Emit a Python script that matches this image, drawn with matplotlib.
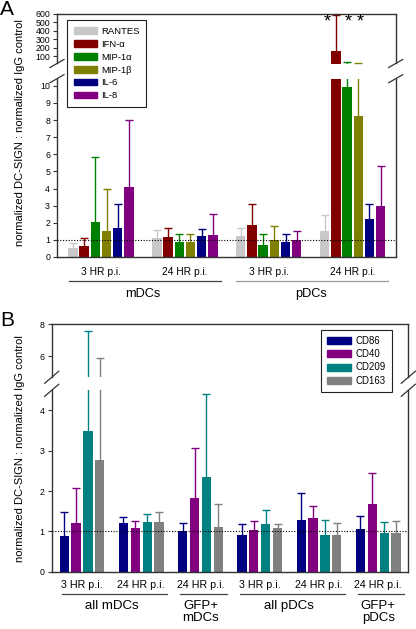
import matplotlib
matplotlib.use('Agg')
import matplotlib.pyplot as plt
from matplotlib.patches import Patch
from matplotlib.lines import Line2D
from matplotlib import transforms

plt.rcParams['font.family'] = ['Liberation Sans', 'DejaVu Sans']

W, H = 416, 629

# ---- panel A data ----
a_series = ['RANTES', 'IFN-α', 'MIP-1α', 'MIP-1β', 'IL-6', 'IL-8']
a_colors = ['#c8c8c8', '#800000', '#008000', '#808000', '#000080', '#800080']
a_ticklabels = ['3 HR p.i.', '24 HR p.i.', '3 HR p.i.', '24 HR p.i.']
a_groups = ['mDCs', 'pDCs']
# one row per time point, one column per cytokine
a_means = [
    [0.51, 0.62, 2.05, 1.52, 1.68, 4.08],
    [1.09, 1.17, 0.90, 0.88, 1.25, 1.31],
    [1.23, 1.86, 0.68, 0.98, 0.90, 1.02],
    [1.52, 166, 9.95, 8.24, 2.20, 2.99],
]
a_tops = [
    [0.84, 1.13, 5.82, 3.96, 3.09, 8.0],
    [1.58, 1.70, 1.37, 1.37, 1.64, 2.50],
    [1.68, 3.09, 1.33, 1.80, 1.37, 1.52],
    [2.47, 580, 32, 20, 3.09, 5.33],
]
a_stars = [(3, 1), (3, 2), (3, 3)]

# ---- panel B data ----
b_series = ['CD86', 'CD40', 'CD209', 'CD163']
b_colors = ['#000080', '#800080', '#008080', '#808080']
b_ticklabels = ['3 HR p.i.', '24 HR p.i.', '24 HR p.i.', '3 HR p.i.', '24 HR p.i.', '24 HR p.i.']
b_groups = ['all mDCs', 'GFP+\nmDCs', 'all pDCs', 'GFP+\npDCs']
b_group_members = [(0, 1), (2, 2), (3, 4), (5, 5)]
b_means = [
    [0.88, 1.21, 3.48, 2.77],
    [1.21, 1.08, 1.24, 1.23],
    [1.00, 1.82, 2.35, 1.12],
    [0.90, 1.04, 1.18, 1.08],
    [1.29, 1.32, 0.90, 0.90],
    [1.06, 1.68, 0.95, 0.95],
]
b_tops = [
    [1.47, 2.07, 7.6, 5.9],
    [1.35, 1.26, 1.43, 1.49],
    [1.21, 3.08, 4.41, 1.68],
    [1.18, 1.27, 1.52, 1.19],
    [1.96, 1.63, 1.28, 1.21],
    [1.37, 2.44, 1.23, 1.26],
]

ylabel = 'normalized DC-SIGN : normalized IgG control'
SPINE = '#333333'


def fx(px):
    return px / W


def fy(py):
    return 1 - py / H


def rect(x0, x1, ytop, ybot):
    return [fx(x0), fy(ybot), fx(x1) - fx(x0), fy(ytop) - fy(ybot)]


def style(ax, which):
    for s in ax.spines.values():
        s.set_color(SPINE)
        s.set_linewidth(1.0)
    if which == 'top':
        ax.spines['bottom'].set_visible(False)
        ax.tick_params(axis='x', bottom=False, labelbottom=False)
    else:
        ax.spines['top'].set_visible(False)
    ax.tick_params(axis='y', length=3, width=0.8, labelsize=6.3, pad=2, color=SPINE)


def bars(ax, centers, means, tops, colors, step, width, ymin):
    n = len(colors)
    for g, xc in enumerate(centers):
        for j in range(n):
            x = xc + (j - (n - 1) / 2) * step
            m = means[g][j]
            if tops[g][j] < ymin:
                continue  # nothing of this bar reaches this segment
            ax.bar(x, m, width, facecolor=colors[j], linewidth=0, zorder=2)
            # upper error only: hide the lower cap
            _, caps, _ = ax.errorbar(x, m, yerr=[[0], [tops[g][j] - m]], fmt='none',
                                     ecolor=colors[j], elinewidth=1.0, capsize=3.2,
                                     capthick=1.0, zorder=1)
            caps[0].set_visible(False)


def breaks(fig, ax_top, ax_bot, dx, dy):
    for ax, end in ((ax_top, 'y0'), (ax_bot, 'y1')):
        p = ax.get_position()
        y = getattr(p, end)
        for x in (p.x0, p.x1):
            fig.add_artist(Line2D([x - dx / W, x + dx / W], [y - dy / H, y + dy / H],
                                  color=SPINE, lw=0.9))


fig = plt.figure(figsize=(W / 100, H / 100), dpi=100)

# ================= panel A =================
a_centers = [0, 7.5, 15, 22.5]
axA_t = fig.add_axes(rect(57, 395.7, 13.7, 63.5))
axA_b = fig.add_axes(rect(57, 395.7, 78.7, 257))
axA_t.set_ylim(15, 600)
axA_b.set_ylim(0, 10.42)
for ax in (axA_t, axA_b):
    bars(ax, a_centers, a_means, a_tops, a_colors, 1.0, 0.84, ax.get_ylim()[0])
    ax.set_xlim(-3.93, 26.35)
axA_t.set_yticks(range(100, 601, 100))
axA_b.set_yticks(range(0, 11))
style(axA_t, 'top')
style(axA_b, 'bot')
axA_b.axhline(1, color='black', ls=(0, (1, 1.5)), lw=0.8, zorder=3)
axA_b.set_xticks(a_centers, a_ticklabels, fontsize=7.4)
axA_b.tick_params(axis='x', length=0, pad=7)
breaks(fig, axA_t, axA_b, 7, 4)

for g, j in a_stars:
    x = a_centers[g] + (j - 2.5) * 1.0 + (-0.75 if j == 1 else 0.15)
    axA_t.text(x, 500, '*', ha='center', va='center', fontsize=13, clip_on=False)

trA = transforms.blended_transform_factory(axA_b.transData, fig.transFigure)
for k, name in enumerate(a_groups):
    g0, g1 = a_centers[2 * k], a_centers[2 * k + 1]
    fig.add_artist(Line2D([g0 - 2.9, g1 + 3.2], [fy(281.3)] * 2, transform=trA,
                          color=['#444444', '#999999'][k], lw=0.9))
    fig.text((g0 + g1) / 2, fy(288), name, transform=trA, ha='center', va='top',
             fontsize=9.2)

legA = fig.legend([Patch(color=c) for c in a_colors], a_series, loc='upper left',
                  bbox_to_anchor=(fx(67.3), fy(20)), fontsize=6.8, frameon=True,
                  fancybox=False, edgecolor='#222222', framealpha=1,
                  handlelength=2.4, handleheight=0.7, handletextpad=0.5,
                  labelspacing=0.42, borderpad=0.7, borderaxespad=0)
legA.get_frame().set_linewidth(0.8)

fig.text(fx(20), fy(133), ylabel, rotation=90, ha='center', va='center', fontsize=8)
fig.text(fx(0), fy(0), 'A', fontsize=15, ha='left', va='top')

# ================= panel B =================
b_centers = [0, 5, 10, 15, 20, 25]
axB_t = fig.add_axes(rect(51.7, 408.3, 324.3, 377.3))
axB_b = fig.add_axes(rect(51.7, 408.3, 390.3, 571.7))
axB_t.set_ylim(4.7, 8)
axB_b.set_ylim(0, 4.5)
for ax in (axB_t, axB_b):
    bars(ax, b_centers, b_means, b_tops, b_colors, 1.0, 0.78, ax.get_ylim()[0])
    ax.set_xlim(-2.56, 27.54)
axB_t.set_yticks([6, 8])
axB_b.set_yticks(range(0, 5))
style(axB_t, 'top')
style(axB_b, 'bot')
axB_b.axhline(1, color='black', ls=(0, (1, 1.5)), lw=0.8, zorder=3)
axB_b.set_xticks(b_centers, b_ticklabels, fontsize=7.7)
axB_b.tick_params(axis='x', length=0, pad=6)
breaks(fig, axB_t, axB_b, 7, 6)

trB = transforms.blended_transform_factory(axB_b.transData, fig.transFigure)
for name, (i0, i1) in zip(b_groups, b_group_members):
    g0, g1 = b_centers[i0], b_centers[i1]
    fig.add_artist(Line2D([g0 - 1.7, g1 + 2.2], [fy(594)] * 2, transform=trB,
                          color='#444444', lw=0.9))
    fig.text((g0 + g1) / 2, fy(600), name, transform=trB, ha='center', va='top',
             fontsize=9.5, linespacing=1.0)

legB = fig.legend([Patch(color=c) for c in b_colors], b_series, loc='upper left',
                  bbox_to_anchor=(fx(321), fy(330)), fontsize=6.9, frameon=True,
                  fancybox=False, edgecolor='#222222', framealpha=1,
                  handlelength=2.5, handleheight=0.75, handletextpad=0.5,
                  labelspacing=0.35, borderpad=0.6, borderaxespad=0)
legB.get_frame().set_linewidth(0.8)

fig.text(fx(20), fy(449), ylabel, rotation=90, ha='center', va='center', fontsize=8)
fig.text(fx(0), fy(311), 'B', fontsize=15, ha='left', va='top')

fig.savefig('out.png', dpi=100)
